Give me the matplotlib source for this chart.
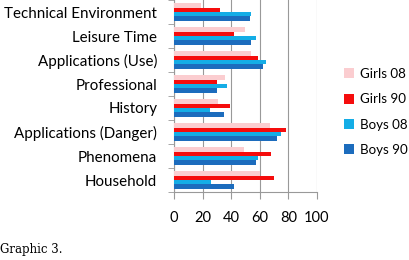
import numpy as np
import matplotlib.pyplot as plt

categorias = ["Technical Environment", "Leisure Time", "Applications (Use)",
              "Professional", "History", "Applications (Danger)",
              "Phenomena", "Household"]
girls_08 = [19, 50, 54, 36, 31, 67, 49, 60]
girls_90 = [32, 42, 59, 30, 39, 78, 68, 70]
boys_08 = [54, 57, 64, 37, 25, 75, 59, 26]
boys_90 = [53, 54, 62, 30, 35, 72, 57, 42]
series = [("Girls 08", girls_08, "#fbcdd0"),
          ("Girls 90", girls_90, "#f50d0d"),
          ("Boys 08", boys_08, "#14ade6"),
          ("Boys 90", boys_90, "#1c6cbd")]

plt.rcParams['font.family'] = ['Lato', 'DejaVu Sans']

fig = plt.figure(figsize=(4.1, 2.6), dpi=100)
ax = fig.add_axes([174/410, 1-192/260, (317-174)/410, 192/260])

n = len(categorias)
y = np.arange(n)[::-1]
h = 0.18
for i, (nome, vals, cor) in enumerate(series):
    ax.barh(y + (1.5 - i)*h, vals, height=h, color=cor, label=nome, zorder=3)

ax.set_xlim(0, 100)
ax.set_ylim(-0.5, n - 0.5)
ax.set_xticks(range(0, 101, 20))
ax.tick_params(axis='x', length=5, color='#999999', labelsize=10.5, pad=9)
ax.set_yticks(y)
ax.set_yticklabels(categorias, fontsize=10.9)
ax.tick_params(axis='y', length=0, pad=12)
# ticks between categories
ax.set_yticks(np.arange(-0.5, n, 1), minor=True)
ax.tick_params(axis='y', which='minor', length=4, color='#999999')
ax.grid(axis='x', color='#999999', linewidth=0.8, zorder=0)
for s in ['top', 'right']:
    ax.spines[s].set_visible(False)
for s in ['left', 'bottom']:
    ax.spines[s].set_color('#999999')

leg = fig.legend(loc='upper left', bbox_to_anchor=(344/410, 1-68/260),
                 frameon=False, fontsize=9.6, handlelength=0.75,
                 handleheight=0.75, handletextpad=0.45, labelspacing=1.0,
                 borderpad=0, borderaxespad=0)

fig.text(0.0, 1-250/260, "Graphic 3.", family='DejaVu Serif', fontsize=8.5,
         va='center', ha='left')

plt.savefig('out.png', dpi=100)
